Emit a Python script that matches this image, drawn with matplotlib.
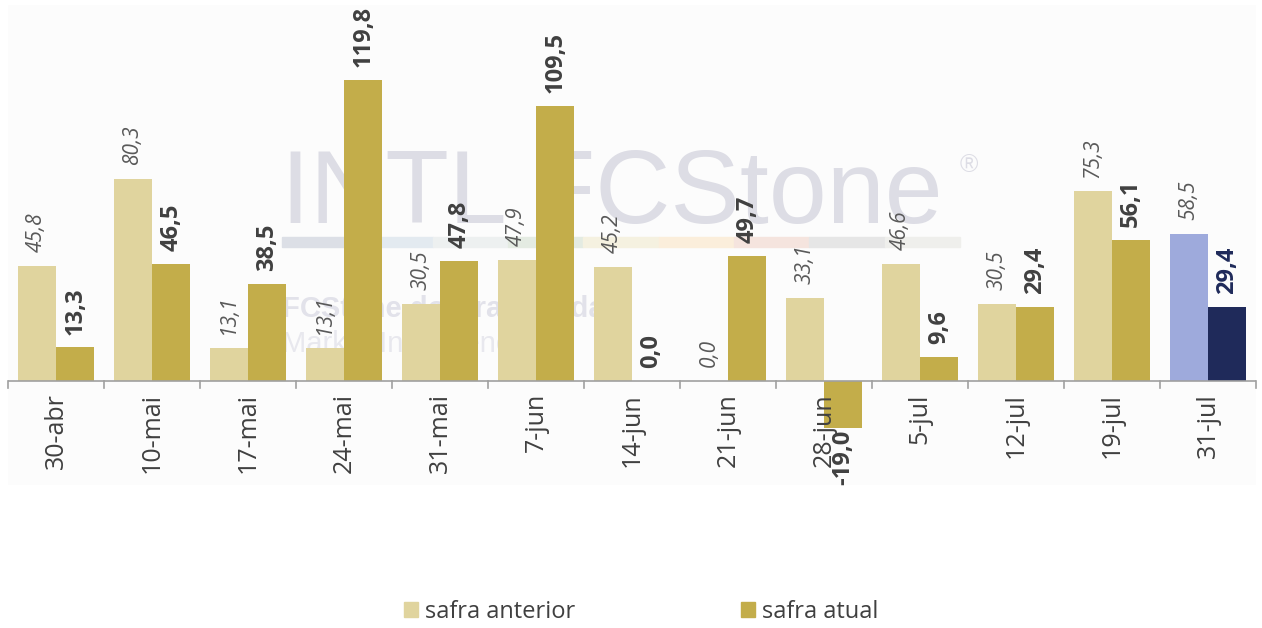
import matplotlib.pyplot as plt
import numpy as np

plt.rcParams['font.family'] = ['Open Sans', 'DejaVu Sans']

datas = ['30-abr', '10-mai', '17-mai', '24-mai', '31-mai', '7-jun', '14-jun',
         '21-jun', '28-jun', '5-jul', '12-jul', '19-jul', '31-jul']
safra_anterior = [45.8, 80.3, 13.1, 13.1, 30.5, 47.9, 45.2, 0.0, 33.1, 46.6, 30.5, 75.3, 58.5]
safra_atual = [13.3, 46.5, 38.5, 119.8, 47.8, 109.5, 0.0, 49.7, -19.0, 9.6, 29.4, 56.1, 29.4]

cor_ant = '#e0d49e'
cor_atu = '#c3ad4a'
cor_ant_ult = '#9eaadc'
cor_atu_ult = '#1f2a5a'

fig = plt.figure(figsize=(12.62, 6.28), dpi=100)
ax = fig.add_axes([8 / 1262, (628 - 485) / 628, 1248 / 1262, 480 / 628])
ax.set_facecolor('#fcfcfc')

x = np.arange(len(datas))
w = 0.4
cores_ant = [cor_ant] * (len(datas) - 1) + [cor_ant_ult]
cores_atu = [cor_atu] * (len(datas) - 1) + [cor_atu_ult]
ax.bar(x - w / 2, safra_anterior, w, color=cores_ant, zorder=3)
ax.bar(x + w / 2, safra_atual, w, color=cores_atu, zorder=3)

# marca d'agua (logo ao fundo), desenhada dentro do eixo, atras das barras
tf = fig.transFigure
ax.text(281 / 1262, 1 - 223 / 628, 'INTL FCStone', ha='left', va='baseline', transform=tf,
        fontsize=75, color='#dddde5', zorder=1, family='Liberation Sans')
ax.text(960 / 1262, 1 - 172 / 628, '®', ha='left', va='baseline', fontsize=18, transform=tf,
        color='#dddde5', zorder=1, family='Liberation Sans')
faixa = ['#dcdfe6', '#e3eaf0', '#edf0f0', '#e4ebe2', '#f5f1e0', '#fbeedb', '#f5e4de', '#e6e6e6', '#efefec']
larg = (960 - 282) / len(faixa)
for k, c in enumerate(faixa):
    ax.add_patch(plt.Rectangle(((282 + k * larg) / 1262, 1 - 247 / 628), larg / 1262, 10 / 628,
                               transform=tf, color=c, zorder=1))
ax.text(282 / 1262, 1 - 317 / 628, 'FCStone do Brasil Ltda.', ha='left', va='baseline', transform=tf,
        fontsize=21, fontweight='bold', color='#e2e2ea', zorder=1, family='Liberation Sans')
ax.text(282 / 1262, 1 - 352 / 628, 'Market Intelligence', ha='left', va='baseline', transform=tf,
        fontsize=21, color='#e8e8ee', zorder=1, family='Liberation Sans')

for i in range(len(datas)):
    va = safra_anterior[i]
    ax.annotate(f'{va:.1f}'.replace('.', ','), (x[i] - w / 2, max(va, 0)),
                xytext=(0, 10), textcoords='offset points', rotation=90, zorder=5,
                ha='center', va='bottom', fontsize=15, style='italic', color='#595959')
    vb = safra_atual[i]
    cor = cor_atu_ult if i == len(datas) - 1 else '#404040'
    if vb < 0:
        ax.annotate(f'{vb:.1f}'.replace('.', ','), (x[i] + w / 2, vb),
                    xytext=(0, -1), textcoords='offset points', rotation=90, zorder=5,
                    ha='center', va='top', fontsize=17, fontweight='bold', color=cor)
    else:
        ax.annotate(f'{vb:.1f}'.replace('.', ','), (x[i] + w / 2, vb),
                    xytext=(0, 9), textcoords='offset points', rotation=90, zorder=5,
                    ha='center', va='bottom', fontsize=17, fontweight='bold', color=cor)

ax.set_xlim(-0.5, len(datas) - 0.5)
ax.set_ylim(-41.5, 149.5)
ax.set_yticks([])
for s in ['top', 'right', 'left', 'bottom']:
    ax.spines[s].set_visible(False)
ax.axhline(0, color='#a0a0a0', lw=1.2, zorder=4)

ax.set_xticks([])
for i, d in enumerate(datas):
    ax.annotate(d, (x[i], 0), xytext=(0, -9), textcoords='offset points', rotation=90, zorder=5,
                ha='center', va='top', fontsize=18, color='#404040')
for b in np.arange(-0.5, len(datas), 1.0):
    ax.plot([b, b], [0, -2.8], color='#a0a0a0', lw=1.2, zorder=4, clip_on=False)

leg = fig.legend(handles=[plt.Rectangle((0, 0), 1, 1, color=cor_ant),
                          plt.Rectangle((0, 0), 1, 1, color=cor_atu)],
                 labels=['safra anterior', 'safra atual'],
                 loc='center', bbox_to_anchor=(641 / 1262, 1 - 612 / 628), ncol=2, frameon=False,
                 fontsize=17, handlelength=0.6, handleheight=0.6, handletextpad=0.3,
                 columnspacing=7.0, borderpad=0.2)
for t in leg.get_texts():
    t.set_color('#404040')

fig.savefig('out.png', dpi=100, facecolor='white')
